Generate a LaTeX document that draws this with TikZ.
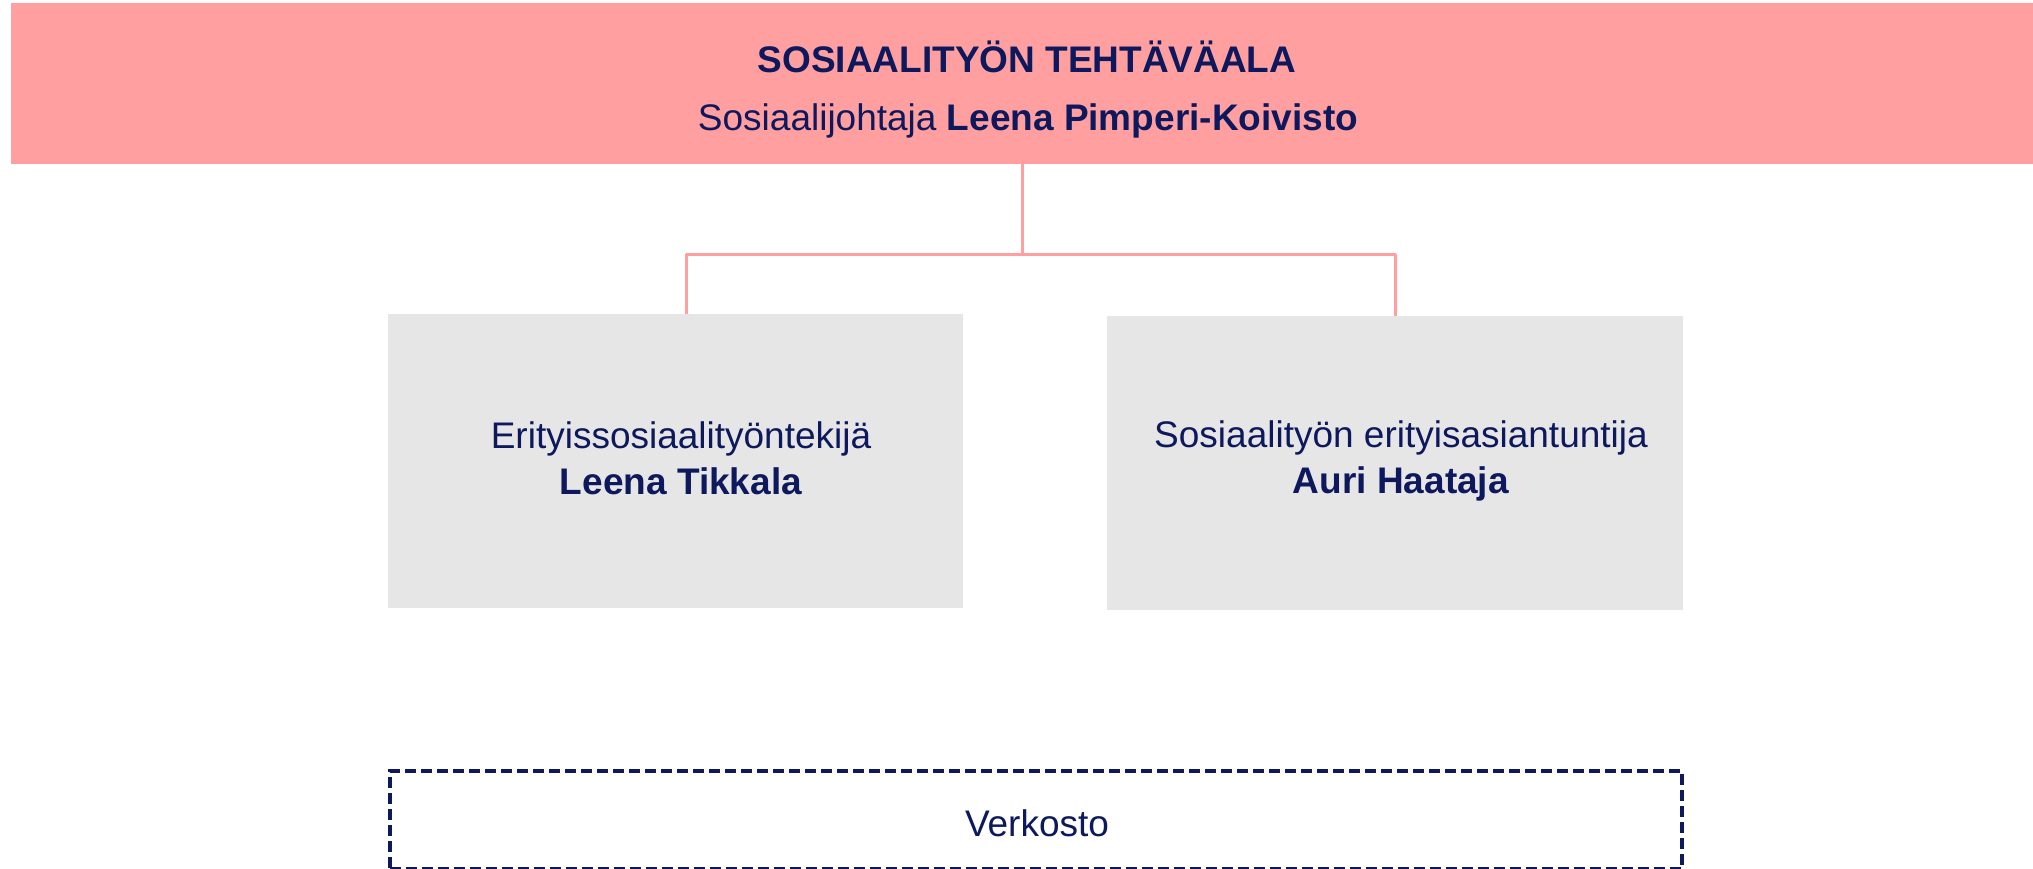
\documentclass[tikz,border=0pt]{standalone}
\usepackage{fontspec}
\setmainfont{Liberation Sans}
\definecolor{pinkc}{HTML}{FF9F9F}
\definecolor{grayc}{HTML}{E6E6E6}
\definecolor{navyc}{RGB}{13,25,92}
\begin{document}
\begin{tikzpicture}[x=1pt,y=-1pt,
  txt/.style={text=navyc,font=\fontsize{37}{46}\selectfont,align=center,inner sep=0pt},
  graybox/.style={fill=grayc,draw=none},
  conn/.style={draw=pinkc,line width=3pt}]
\useasboundingbox (0,0) rectangle (2033,869);
\fill[white] (0,0) rectangle (2033,869);
% top banner
\node[fill=pinkc,minimum width=2022pt,minimum height=161pt,inner sep=0pt,anchor=north west] (top) at (11,3) {};
\node[txt,anchor=base] (title) at (1027,73) {\bfseries SOSIAALITYÖN TEHTÄVÄALA};
\node[txt,anchor=base] (lead) at (1028,131) {Sosiaalijohtaja \textbf{Leena Pimperi-Koivisto}};
% gray boxes
\node[graybox,minimum width=575pt,minimum height=294pt,inner sep=0pt,anchor=north west] (left) at (388,314) {};
\node[graybox,minimum width=576pt,minimum height=294pt,inner sep=0pt,anchor=north west] (right) at (1107,316) {};
\node[txt] (lefttxt) at (681,458) {Erityissosiaalityöntekijä\\\textbf{Leena Tikkala}};
\node[txt] (righttxt) at (1401,461) {Sosiaalityön erityisasiantuntija\\\textbf{Auri Haataja}};
% connectors
\coordinate (hub) at (1022,254);
\coordinate (lj) at (686,254);
\coordinate (rj) at (1395,254);
\draw[conn] (top.south -| hub) -- (hub);
\draw[conn,line join=round] (lj |- left.north) -- (lj) -- (rj) -- (rj |- right.north);
% network box
\node[draw=navyc,line width=3.5pt,dash pattern=on 11pt off 5pt,minimum width=1292pt,minimum height=98pt,inner sep=0pt,anchor=north west] (net) at (388,769) {};
\node[txt] (nettxt) at (1037,823) {Verkosto};
\end{tikzpicture}
\end{document}
